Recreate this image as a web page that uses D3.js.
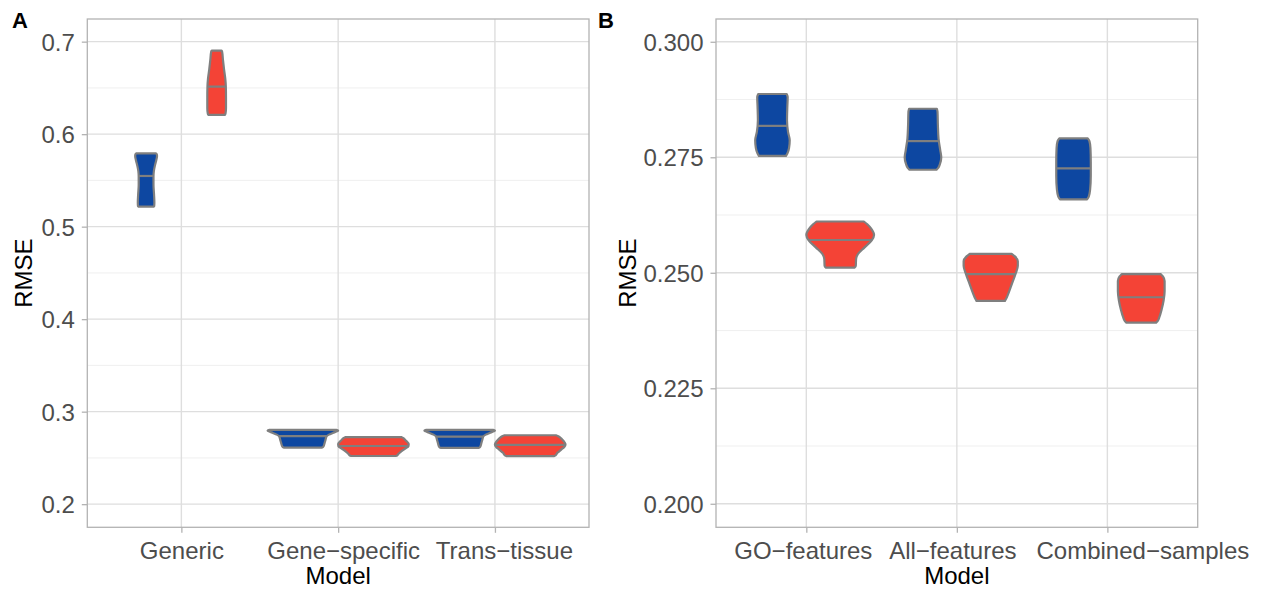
<!DOCTYPE html>
<html>
<head>
<meta charset="utf-8">
<script src="https://cdn.jsdelivr.net/npm/d3@7"></script>
<style>
  body { margin: 0; background: #fff; }
  svg { display: block; font-family: "Liberation Sans", Arial, Helvetica, sans-serif; }
</style>
</head>
<body>
<div id="chart"></div>
<script>
// ---- data ----
const modelsA = ['Generic', 'Gene\u2212specific', 'Trans\u2212tissue'];
const modelsB = ['GO\u2212features', 'All\u2212features', 'Combined\u2212samples'];
const groups = ['blue', 'red'];

const ticksA = [0.2, 0.3, 0.4, 0.5, 0.6, 0.7];
const minorA = [0.25, 0.35, 0.45, 0.55, 0.65];
const ticksB = [0.2, 0.225, 0.25, 0.275, 0.3];
const minorB = [0.2125, 0.2375, 0.2625, 0.2875];

// medians per model, one array per group
const medianA_blue = [0.5548, 0.2735, 0.2730];
const medianA_red = [0.6514, 0.2629, 0.2640];
const medianB_blue = [0.2818, 0.2785, 0.2726];
const medianB_red = [0.2571, 0.2497, 0.2447];

// violin outlines: [RMSE, relative width (1 = full dodge slot)]
const shapeA_blue = [
  [[0.5793, 0.27], [0.5785, 0.30], [0.5765, 0.31], [0.572, 0.29], [0.566, 0.25], [0.560, 0.22],
   [0.554, 0.21], [0.545, 0.21], [0.535, 0.225], [0.526, 0.235], [0.5222, 0.23], [0.5216, 0.21]],
  [[0.2803, 0.95], [0.2797, 1.0], [0.2787, 0.96], [0.2770, 0.85], [0.2752, 0.74], [0.2732, 0.67],
   [0.2700, 0.645], [0.2660, 0.615], [0.2625, 0.585], [0.2615, 0.56], [0.2612, 0.53]],
  [[0.2803, 0.95], [0.2797, 1.0], [0.2787, 0.96], [0.2770, 0.85], [0.2752, 0.74], [0.2732, 0.67],
   [0.2700, 0.645], [0.2660, 0.615], [0.2622, 0.585], [0.2611, 0.56], [0.2608, 0.53]]
];
const shapeA_red = [
  [[0.6903, 0.14], [0.689, 0.155], [0.680, 0.18], [0.670, 0.21], [0.660, 0.245], [0.652, 0.26],
   [0.640, 0.265], [0.628, 0.265], [0.622, 0.25], [0.6208, 0.23]],
  [[0.2724, 0.80], [0.2717, 0.84], [0.2700, 0.89], [0.2680, 0.94], [0.2650, 1.0], [0.2625, 0.99],
   [0.2600, 0.90], [0.2570, 0.79], [0.2540, 0.70], [0.2526, 0.67], [0.2521, 0.63]],
  [[0.2745, 0.73], [0.2738, 0.78], [0.2720, 0.85], [0.2695, 0.92], [0.2665, 0.98], [0.2645, 1.0],
   [0.2620, 0.97], [0.2590, 0.88], [0.2555, 0.77], [0.2528, 0.72], [0.2520, 0.68]]
];
const shapeB_blue = [
  [[0.2887, 0.42], [0.2880, 0.45], [0.2860, 0.44], [0.2830, 0.43], [0.2805, 0.46], [0.2787, 0.51],
   [0.2770, 0.49], [0.2758, 0.44], [0.2753, 0.40]],
  [[0.2855, 0.41], [0.2848, 0.43], [0.2820, 0.44], [0.2790, 0.46], [0.2765, 0.51], [0.2750, 0.54],
   [0.2735, 0.50], [0.2727, 0.45], [0.2723, 0.40]],
  [[0.2791, 0.42], [0.2785, 0.47], [0.2770, 0.50], [0.2740, 0.51], [0.2710, 0.51], [0.2680, 0.49],
   [0.2665, 0.45], [0.2659, 0.40]]
];
const shapeB_red = [
  [[0.2611, 0.70], [0.2605, 0.80], [0.2595, 0.92], [0.2582, 1.0], [0.2570, 0.93], [0.2555, 0.72],
   [0.2540, 0.52], [0.2530, 0.47], [0.2515, 0.46], [0.2511, 0.42]],
  [[0.2541, 0.62], [0.2535, 0.72], [0.2525, 0.80], [0.2515, 0.80], [0.2497, 0.73], [0.2475, 0.62],
   [0.2455, 0.52], [0.2443, 0.45], [0.2439, 0.42]],
  [[0.2497, 0.58], [0.2492, 0.64], [0.2482, 0.69], [0.2460, 0.69], [0.2440, 0.66], [0.2420, 0.60],
   [0.2405, 0.54], [0.2395, 0.48], [0.2392, 0.44]]
];

// ---- look ----
const style = {
  fill: { blue: '#0D47A1', red: '#F44336' },
  outline: '#7F7F7F',
  gridMajor: '#DEDEDE',
  gridMinor: '#EBEBEB',
  border: '#B3B3B3',
  tickText: '#4D4D4D',
  fontSize: 24,
};

const width = 1262;
const height = 593;

const svg = d3.select('#chart').append('svg')
  .attr('width', width)
  .attr('height', height);

svg.append('rect').attr('width', width).attr('height', height).attr('fill', '#fff');

function drawPanel(cfg) {
  const { left, right, top, bottom } = cfg.box;

  const x = d3.scalePoint().domain(cfg.models).range([left, right]).padding(0.6);
  const y = d3.scaleLinear().domain(cfg.yDomain).range([bottom, top]);
  const step = x.step();
  const dodge = { blue: -0.225 * step, red: 0.225 * step };
  const half = 0.225 * step;

  const g = svg.append('g');

  // grid
  g.selectAll('.minor').data(cfg.minor).join('line')
    .attr('x1', left).attr('x2', right)
    .attr('y1', (d) => y(d)).attr('y2', (d) => y(d))
    .attr('stroke', style.gridMinor).attr('stroke-width', 0.8);
  g.selectAll('.hmajor').data(cfg.ticks).join('line')
    .attr('x1', left).attr('x2', right)
    .attr('y1', (d) => y(d)).attr('y2', (d) => y(d))
    .attr('stroke', style.gridMajor).attr('stroke-width', 1.4);
  g.selectAll('.vmajor').data(cfg.models).join('line')
    .attr('x1', (d) => x(d)).attr('x2', (d) => x(d))
    .attr('y1', top).attr('y2', bottom)
    .attr('stroke', style.gridMajor).attr('stroke-width', 1.4);

  // violins
  const violins = [];
  groups.forEach((grp) => {
    cfg.models.forEach((m, i) => {
      violins.push({
        model: m,
        group: grp,
        shape: cfg.shapes[grp][i],
        median: cfg.medians[grp][i],
      });
    });
  });

  violins.forEach((v) => {
    const cx = x(v.model) + dodge[v.group];
    const area = d3.area()
      .curve(d3.curveMonotoneY)
      .y((d) => y(d[0]))
      .x0((d) => cx - d[1] * half)
      .x1((d) => cx + d[1] * half);

    g.append('path')
      .attr('d', area(v.shape))
      .attr('fill', style.fill[v.group])
      .attr('stroke', style.outline)
      .attr('stroke-width', 2.2)
      .attr('stroke-linejoin', 'round');

    const widthAt = d3.scaleLinear()
      .domain(v.shape.map((d) => d[0]))
      .range(v.shape.map((d) => d[1]));
    const w = widthAt(v.median) * half;
    g.append('line')
      .attr('x1', cx - w).attr('x2', cx + w)
      .attr('y1', y(v.median)).attr('y2', y(v.median))
      .attr('stroke', style.outline)
      .attr('stroke-width', 2.2);
  });

  // border
  g.append('rect')
    .attr('x', left).attr('y', top)
    .attr('width', right - left).attr('height', bottom - top)
    .attr('fill', 'none')
    .attr('stroke', style.border)
    .attr('stroke-width', 1.3);

  // axes
  const yAxis = d3.axisLeft(y).tickValues(cfg.ticks).tickFormat(d3.format(cfg.fmt))
    .tickSize(5.5).tickPadding(7);
  const xAxis = d3.axisBottom(x).tickSize(5.5).tickPadding(6);

  const ya = g.append('g').attr('transform', `translate(${left},0)`).call(yAxis);
  const xa = g.append('g').attr('transform', `translate(0,${bottom})`).call(xAxis);
  [ya, xa].forEach((a) => {
    a.select('.domain').remove();
    a.selectAll('.tick line').attr('stroke', style.border).attr('stroke-width', 1.3);
    a.selectAll('.tick text')
      .attr('fill', style.tickText)
      .style('font-size', `${style.fontSize}px`)
      .style('font-family', '"Liberation Sans", Arial, sans-serif');
  });
  ya.selectAll('.tick text').attr('dy', '0.35em');
  // labels sit slightly off their ticks in the reference
  xa.selectAll('.tick text')
    .attr('dy', null)
    .attr('y', 559 - bottom)
    .attr('dx', (d, i) => cfg.labelShift[i]);

  // titles
  g.append('text')
    .attr('x', (left + right) / 2).attr('y', 584)
    .attr('text-anchor', 'middle')
    .style('font-size', `${style.fontSize}px`)
    .attr('fill', '#000')
    .text('Model');

  g.append('text')
    .attr('transform', `translate(${cfg.yTitleX},${(top + bottom) / 2}) rotate(-90)`)
    .attr('text-anchor', 'middle')
    .style('font-size', `${style.fontSize}px`)
    .attr('fill', '#000')
    .text('RMSE');

  g.append('text')
    .attr('x', cfg.tagX).attr('y', 28)
    .style('font-size', '22px')
    .style('font-weight', 'bold')
    .attr('fill', '#000')
    .text(cfg.tag);
}

drawPanel({
  tag: 'A',
  tagX: 12,
  models: modelsA,
  ticks: ticksA,
  minor: minorA,
  fmt: '.1f',
  yDomain: [0.175, 0.7245],
  box: { left: 87.3, right: 589, top: 19, bottom: 527.3 },
  labelShift: [0, 5, 9],
  yTitleX: 32,
  shapes: { blue: shapeA_blue, red: shapeA_red },
  medians: { blue: medianA_blue, red: medianA_red },
});

drawPanel({
  tag: 'B',
  tagX: 598,
  models: modelsB,
  ticks: ticksB,
  minor: minorB,
  fmt: '.3f',
  yDomain: [0.19491, 0.30493],
  box: { left: 716, right: 1197.7, top: 19, bottom: 527.3 },
  labelShift: [-3.5, -4.5, 35],
  yTitleX: 636,
  shapes: { blue: shapeB_blue, red: shapeB_red },
  medians: { blue: medianB_blue, red: medianB_red },
});
</script>
</body>
</html>
